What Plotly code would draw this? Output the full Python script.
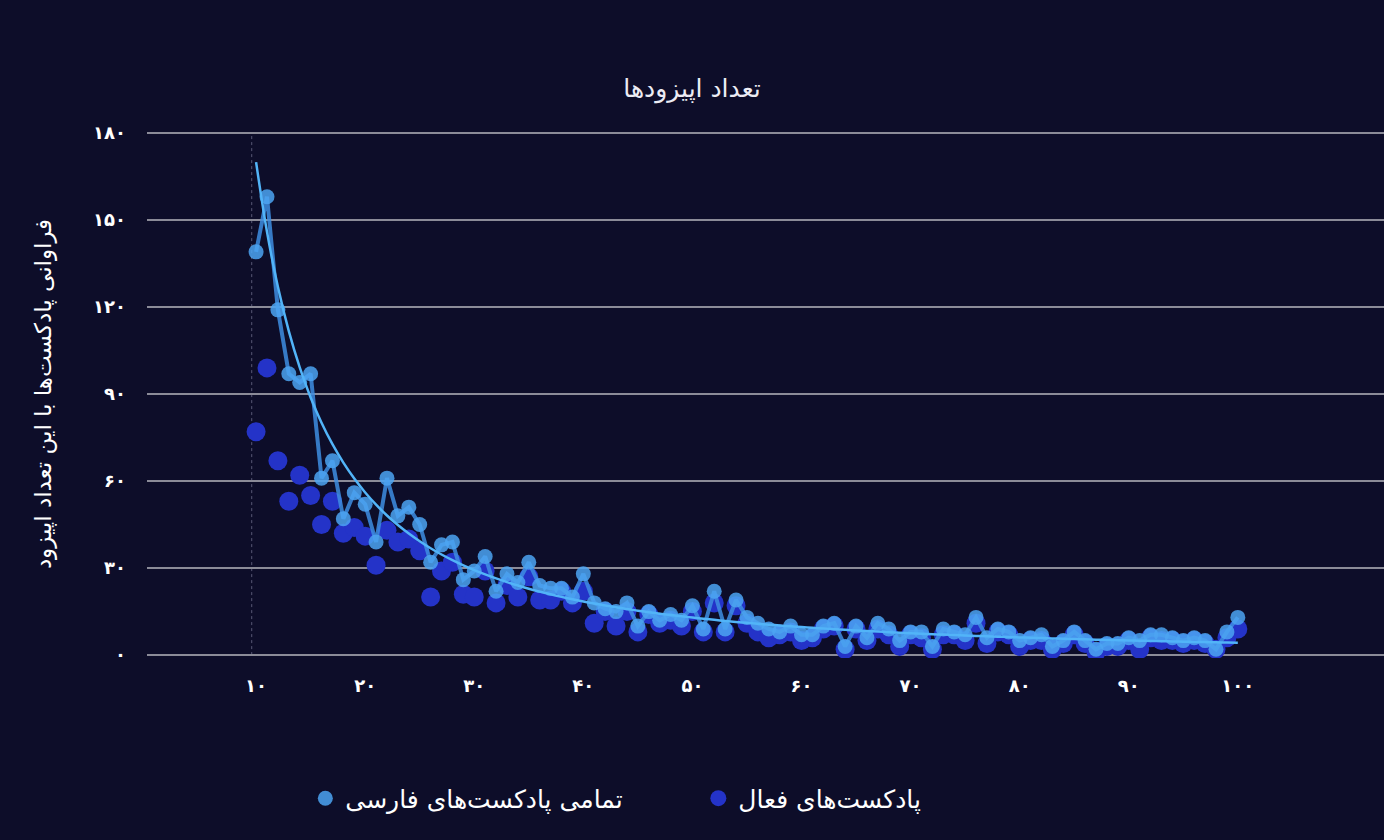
import plotly.graph_objects as go

# ---------------- data ----------------
episodes = list(range(10, 101))

all_podcasts = [
    139, 158, 119, 97, 94, 97, 61, 67, 47, 56,
    52, 39, 61, 48, 51, 45, 32, 38, 39, 26,
    29, 34, 22, 28, 25, 32, 24, 23, 23, 20,
    28, 18, 16, 15, 18, 10, 15, 12, 14, 12,
    17, 9, 22, 9, 19, 13, 11, 9, 8, 10,
    7, 7, 10, 11, 3, 10, 6, 11, 9, 5,
    8, 8, 3, 9, 8, 7, 13, 6, 9, 8,
    5, 6, 7, 3, 5, 8, 5, 2, 4, 4,
    6, 5, 7, 7, 6, 5, 6, 5, 2, 8,
    13,
]

active_podcasts = [
    77, 99, 67, 53, 62, 55, 45, 53, 42, 44,
    41, 31, 43, 39, 40, 36, 20, 29, 32, 21,
    20, 29, 18, 24, 20, 27, 19, 19, 22, 18,
    22, 11, 15, 10, 15, 8, 14, 11, 12, 10,
    15, 8, 18, 8, 17, 11, 8, 6, 7, 8,
    5, 6, 9, 10, 2, 9, 5, 9, 7, 3,
    7, 6, 2, 7, 7, 5, 11, 4, 8, 7,
    3, 5, 5, 2, 4, 7, 4, 1, 3, 3,
    5, 2, 6, 5, 5, 4, 5, 4, 2, 6,
    9,
]

# power-law trend line y = a * x^b, coefficients
trend_a = 6765.0
trend_b = -1.60

x_tick_values = [10, 20, 30, 40, 50, 60, 70, 80, 90, 100]
x_tick_labels = ["۱۰", "۲۰", "۳۰", "۴۰", "۵۰", "۶۰", "۷۰", "۸۰", "۹۰", "۱۰۰"]
y_tick_values = [0, 30, 60, 90, 120, 150, 180]
y_tick_labels = ["۰", "۳۰", "۶۰", "۹۰", "۱۲۰", "۱۵۰", "۱۸۰"]

series_all_name = "تمامی پادکست‌های فارسی"
series_active_name = "پادکست‌های فعال"
title_text = "تعداد اپیزودها"
y_title_text = "فراوانی پادکست‌ها با این تعداد اپیزود"

trend = [trend_a * x ** trend_b for x in episodes]

# ---------------- styling ----------------
BG = "#0d0d29"
GRID = "#8b8b98"
FONT = "DejaVu Sans"
DARK = "#2433c8"

fig = go.Figure()

fig.add_trace(go.Scatter(
    x=episodes, y=active_podcasts, mode="markers", name=series_active_name,
    marker=dict(size=19, color=DARK, line=dict(width=0)),
    legendrank=2, hoverinfo="x+y",
))
fig.add_trace(go.Scatter(
    x=episodes, y=all_podcasts, mode="lines", showlegend=False,
    line=dict(color="rgba(62,142,226,0.85)", width=4),
    hoverinfo="skip",
))
fig.add_trace(go.Scatter(
    x=episodes, y=all_podcasts, mode="markers", name=series_all_name,
    marker=dict(size=15, color="rgba(76,165,242,0.85)", line=dict(width=0)),
    legendrank=1, hoverinfo="x+y",
))
fig.add_trace(go.Scatter(
    x=episodes, y=trend, mode="lines", showlegend=False,
    line=dict(color="#52b4f8", width=2.5, shape="spline"),
    hoverinfo="skip",
))

fig.add_shape(type="line", xref="x", yref="y", x0=9.6, x1=9.6, y0=0, y1=180,
              line=dict(color="rgba(140,140,170,0.6)", width=1, dash="dot"), layer="below")

fig.update_layout(
    width=1384, height=840,
    paper_bgcolor=BG, plot_bgcolor=BG,
    margin=dict(l=147, r=0, t=130, b=182),
    font=dict(family=FONT, color="#ffffff"),
    title=dict(text=title_text, x=0.5, xref="container", xanchor="center",
               y=1 - 88 / 840, yref="container", yanchor="middle",
               font=dict(size=25, color="#ececf4", family=FONT)),
    showlegend=True,
    legend=dict(orientation="h", x=0.128, xanchor="left", y=-0.266, yanchor="middle",
                font=dict(size=25, color="#ffffff", family=FONT),
                bgcolor="rgba(0,0,0,0)", itemsizing="trace",
                entrywidth=348, entrywidthmode="pixels", traceorder="normal"),
    xaxis=dict(range=[0, 113.4], tickmode="array", tickvals=x_tick_values, ticktext=x_tick_labels,
               showgrid=False, zeroline=False, showline=False, ticks="", ticklabelstandoff=15,
               tickfont=dict(size=18, color="#ffffff", family=FONT, weight="bold"), fixedrange=True),
    yaxis=dict(range=[-1, 181], tickmode="array", tickvals=y_tick_values, ticktext=y_tick_labels,
               showgrid=True, gridcolor=GRID, gridwidth=2, zeroline=False, showline=False,
               ticks="", ticklabelstandoff=20,
               tickfont=dict(size=18, color="#ffffff", family=FONT, weight="bold"),
               title=dict(text=y_title_text, standoff=34,
                          font=dict(size=23, color="#ffffff", family=FONT)),
               fixedrange=True),
)

fig.write_html("out.html", config={"displayModeBar": False},
               post_script="document.body.style.margin='0';document.body.style.background='" + BG + "';")
